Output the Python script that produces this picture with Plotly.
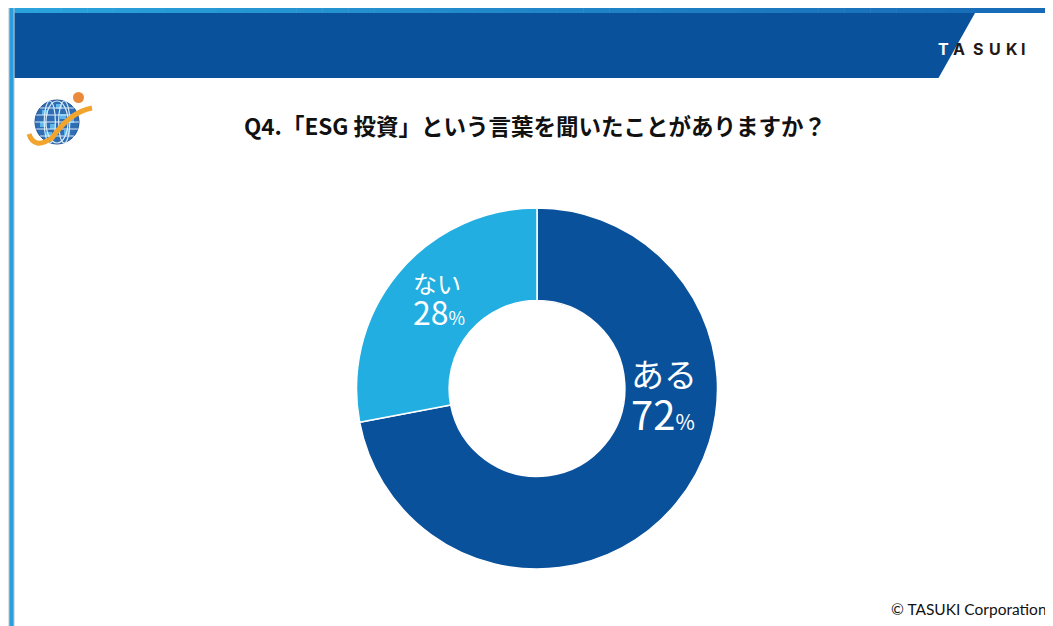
import plotly.graph_objects as go

# ---- data ----
labels = ["ある", "ない"]
values = [72, 28]
colors = ["#0a519b", "#22aee0"]
title_text = "Q4.「ESG 投資」という言葉を聞いたことがありますか？"
brand = "TASUKI"
copyright_text = "© TASUKI Corporation"

W, H = 1045, 618
OFF = 8  # page body margin


def px(x):
    return (x - OFF) / W


def py(y):
    return 1 - (y - OFF) / H


fig = go.Figure()

fig.add_trace(go.Pie(
    labels=labels,
    values=values,
    hole=0.487,
    sort=False,
    direction="clockwise",
    rotation=0,
    marker=dict(colors=colors, line=dict(color="white", width=1.5)),
    textinfo="none",
    hoverinfo="label+percent",
    showlegend=False,
    domain=dict(x=[px(356.5), px(717.5)], y=[py(569), py(208)]),
))

shapes = []
# gradient top strip
n = 40
c0 = (0x2a, 0xa3, 0xdc)
c1 = (0x17, 0x6a, 0xb6)
x_start, x_end = 9, 1053
for i in range(n):
    t = i / (n - 1)
    c = tuple(int(round(c0[k] + (c1[k] - c0[k]) * t)) for k in range(3))
    xa = x_start + (x_end - x_start) * i / n
    xb = x_start + (x_end - x_start) * (i + 1) / n + 0.5
    shapes.append(dict(type="rect", xref="paper", yref="paper",
                       x0=px(xa), x1=px(xb), y0=py(13), y1=py(8),
                       fillcolor="rgb(%d,%d,%d)" % c, line=dict(width=0), layer="above"))

# left vertical bar
shapes.append(dict(type="rect", xref="paper", yref="paper",
                   x0=px(8.5), x1=px(14.5), y0=py(626), y1=py(8),
                   fillcolor="#b8c4cc", line=dict(width=0), layer="above"))
shapes.append(dict(type="rect", xref="paper", yref="paper",
                   x0=px(9.5), x1=px(13.5), y0=py(626), y1=py(8),
                   fillcolor="#2a9fe0", line=dict(width=0), layer="above"))

# banner with slanted right edge
path = "M {a},{b} L {c},{b} L {d},{e} L {a},{e} Z".format(
    a=px(14.5), b=py(13), c=px(975), d=px(938.5), e=py(78))
shapes.append(dict(type="path", xref="paper", yref="paper", path=path,
                   fillcolor="#0a519b", line=dict(width=0), layer="above"))

# logo: globe
gx, gy, gr = 57, 122, 22
shapes.append(dict(type="circle", xref="paper", yref="paper",
                   x0=px(gx - gr), x1=px(gx + gr), y0=py(gy + gr), y1=py(gy - gr),
                   fillcolor="#2f6db5", line=dict(color="#1f4f8f", width=1), layer="above"))
for (tx, ty) in [(42, 110), (50, 124), (60, 114), (46, 132), (64, 130), (56, 104), (68, 118), (40, 122)]:
    shapes.append(dict(type="rect", xref="paper", yref="paper",
                       x0=px(tx), x1=px(tx + 6), y0=py(ty + 5), y1=py(ty),
                       fillcolor="#5cb8ec", line=dict(width=0), layer="above"))
for dx in [-12, 0, 12]:
    w = gr - abs(dx) * 0.9
    shapes.append(dict(type="circle", xref="paper", yref="paper",
                       x0=px(gx - w * 0.5 + dx * 0.6), x1=px(gx + w * 0.5 + dx * 0.6),
                       y0=py(gy + gr - 1), y1=py(gy - gr + 1),
                       fillcolor="rgba(0,0,0,0)", line=dict(color="#d7ecf8", width=1.2), layer="above"))
for dy in [-14, -7, 0, 7, 14]:
    half = (gr ** 2 - dy ** 2) ** 0.5
    shapes.append(dict(type="line", xref="paper", yref="paper",
                       x0=px(gx - half), x1=px(gx + half), y0=py(gy + dy), y1=py(gy + dy),
                       line=dict(color="#d7ecf8", width=1.2), layer="above"))
# swoosh
sw = "M {},{} Q {},{} {},{} Q {},{} {},{}".format(
    px(29), py(134), px(34), py(150), px(52), py(138),
    px(70), py(112), px(92), py(108))
shapes.append(dict(type="path", xref="paper", yref="paper", path=sw,
                   fillcolor="rgba(0,0,0,0)", line=dict(color="#f2a52e", width=5), layer="above"))
shapes.append(dict(type="circle", xref="paper", yref="paper",
                   x0=px(73), x1=px(84), y0=py(103), y1=py(92),
                   fillcolor="#ec8a3c", line=dict(width=0), layer="above"))

annotations = []
# title
annotations.append(dict(xref="paper", yref="paper", x=px(535), y=py(125),
                        text="<b>" + title_text + "</b>", showarrow=False,
                        font=dict(family="Noto Sans CJK JP", size=22.5, color="#111111"),
                        xanchor="center", yanchor="middle"))
# brand letters
letter_x = [943, 959, 978, 995, 1012, 1023]
letter_c = ["white", "#231815", "#231815", "#231815", "#231815", "#231815"]
for ch, lx, lc in zip(brand, letter_x, letter_c):
    annotations.append(dict(xref="paper", yref="paper", x=px(lx), y=py(49),
                            text="<b>" + ch + "</b>", showarrow=False,
                            font=dict(family="Inter", size=16, color=lc),
                            xanchor="center", yanchor="middle"))
# slice labels (two lines each, one text block)
small_txt = ("<span style='font-size:24px'>" + labels[1] + "</span><br>"
             "<span style='font-size:32px'>" + str(values[1]) + "</span>"
             "<span style='font-size:18px'>%</span>")
annotations.append(dict(xref="paper", yref="paper", x=px(411), y=py(300),
                        text=small_txt, showarrow=False, align="left",
                        font=dict(family="Noto Sans CJK JP", size=24.5, color="white"),
                        xanchor="left", yanchor="middle"))
big_txt = ("<span style='font-size:33px'>" + labels[0] + "</span><br>"
           "<span style='font-size:40px'>" + str(values[0]) + "</span>"
           "<span style='font-size:21px'>%</span>")
annotations.append(dict(xref="paper", yref="paper", x=px(629), y=py(395),
                        text=big_txt, showarrow=False, align="left",
                        font=dict(family="Noto Sans CJK JP", size=33, color="white"),
                        xanchor="left", yanchor="middle"))
# copyright
annotations.append(dict(xref="paper", yref="paper", x=px(1049), y=py(609),
                        text=copyright_text, showarrow=False,
                        font=dict(family="Lato", size=15.5, color="#111111"),
                        xanchor="right", yanchor="middle"))

fig.update_layout(
    width=W, height=H,
    margin=dict(l=0, r=0, t=0, b=0),
    paper_bgcolor="white",
    plot_bgcolor="white",
    shapes=shapes,
    annotations=annotations,
    showlegend=False,
)

fig.write_html("out.html")
